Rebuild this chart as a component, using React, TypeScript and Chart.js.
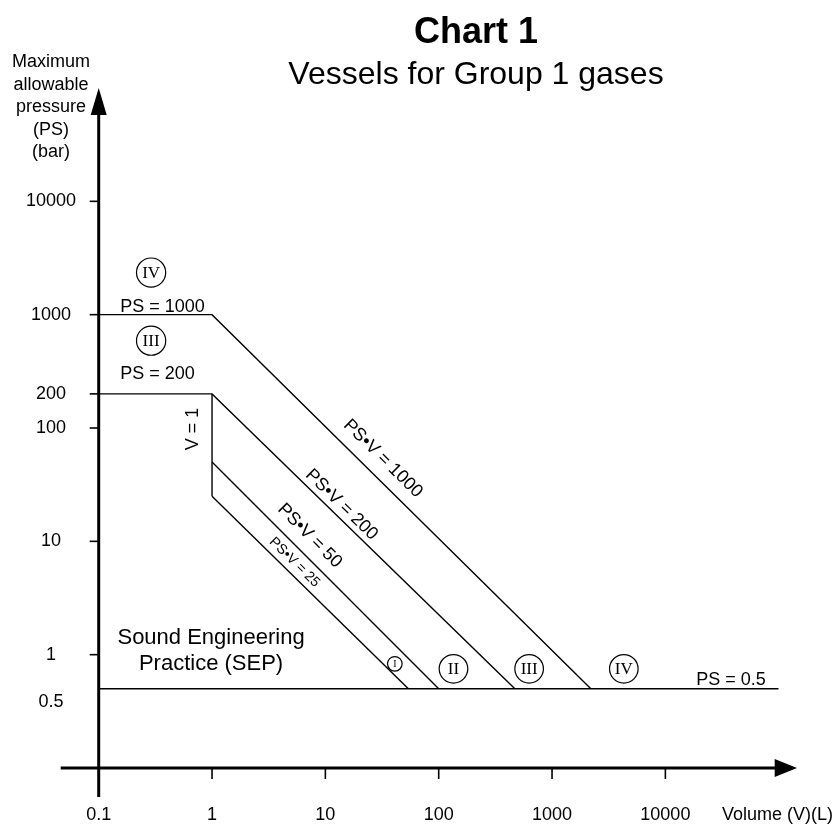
import React, { useEffect, useRef } from "react";
import { Chart, registerables } from "chart.js";

Chart.register(...registerables);

// ---- data ----
const volumeTicks = [0.1, 1, 10, 100, 1000, 10000];
const pressureTicks = [10000, 1000, 200, 100, 10, 1, 0.5];
const pressureTicksMarked = [10000, 1000, 200, 100, 10, 1];

// PS = 1000 then PS·V = 1000
const lineIVVolumes = [0.1, 1, 2200];
const lineIVPressures = [1000, 1000, 0.5];
// PS = 200 then PS·V = 200
const lineIIIVolumes = [0.1, 1, 470];
const lineIIIPressures = [200, 200, 0.5];
// V = 1
const lineV1Volumes = [1, 1];
const lineV1Pressures = [200, 25];
// PS·V = 50
const line50Volumes = [1, 100];
const line50Pressures = [50, 0.5];
// PS·V = 25
const line25Volumes = [1, 54];
const line25Pressures = [25, 0.5];
// PS = 0.5
const lineSEPVolumes = [0.1, 100000];
const lineSEPPressures = [0.5, 0.5];

const psvProducts = [1000, 200, 50, 25];
const psvStartPressures = [1000, 200, 50, 25];
const psvEndVolumes = [2200, 470, 100, 54];

const FONT = '"Liberation Sans", Arial, Helvetica, sans-serif';
const SERIF = '"Liberation Serif", "Times New Roman", serif';

const toPoints = (xs: number[], ys: number[]) => xs.map((x, i) => ({ x, y: ys[i] }));

// label styling (positions along lines, offsets, sizes)
const psvLabelAt = [25, 11.9, 5.7, 4.6];
const psvLabelOffset = [17.7, 11, 17, 10.6];
const psvLabelSize = [18, 18, 18, 14];

const overlay = {
  id: "overlay",
  beforeDraw(chart: any) {
    const { ctx, width, height } = chart;
    ctx.save();
    ctx.fillStyle = "#fff";
    ctx.fillRect(0, 0, width, height);
    ctx.restore();
  },
  afterDatasetsDraw(chart: any) {
    const ctx: CanvasRenderingContext2D = chart.ctx;
    const xs = chart.scales.x;
    const ys = chart.scales.y;
    const px = (v: number) => xs.getPixelForValue(v);
    const py = (v: number) => ys.getPixelForValue(v);
    const x0 = px(0.1);
    const y0 = py(0.1);

    ctx.save();
    ctx.strokeStyle = "#000";
    ctx.fillStyle = "#000";

    // axes
    ctx.lineWidth = 3;
    ctx.beginPath();
    ctx.moveTo(x0, y0 + 29);
    ctx.lineTo(x0, ys.top + 20);
    ctx.stroke();
    ctx.beginPath();
    ctx.moveTo(x0, ys.top);
    ctx.lineTo(x0 - 8, ys.top + 27);
    ctx.lineTo(x0 + 8, ys.top + 27);
    ctx.closePath();
    ctx.fill();

    ctx.beginPath();
    ctx.moveTo(x0 - 38, y0);
    ctx.lineTo(xs.right, y0);
    ctx.stroke();
    ctx.beginPath();
    ctx.moveTo(xs.right + 18.3, y0);
    ctx.lineTo(xs.right - 4, y0 - 9);
    ctx.lineTo(xs.right - 4, y0 + 9);
    ctx.closePath();
    ctx.fill();

    // tick marks
    ctx.lineWidth = 1.6;
    volumeTicks.forEach((v) => {
      if (v === 0.1) return;
      const x = px(v);
      ctx.beginPath();
      ctx.moveTo(x, y0);
      ctx.lineTo(x, y0 + 11);
      ctx.stroke();
    });
    pressureTicksMarked.forEach((v) => {
      const y = py(v);
      ctx.beginPath();
      ctx.moveTo(x0 - 9, y);
      ctx.lineTo(x0, y);
      ctx.stroke();
    });

    // tick labels
    ctx.font = `18px ${FONT}`;
    ctx.textAlign = "center";
    ctx.textBaseline = "middle";
    volumeTicks.forEach((v) => {
      ctx.fillText(String(v), px(v), y0 + 47);
    });
    pressureTicks.forEach((v) => {
      const y = py(v) + (v === 0.5 ? 13 : 0);
      ctx.fillText(String(v), x0 - 47.7, y);
    });
    ctx.textAlign = "left";
    ctx.fillText("Volume (V)(L)", 722, y0 + 47);

    // y axis title
    ctx.textAlign = "center";
    ctx.textBaseline = "alphabetic";
    ["Maximum", "allowable", "pressure", "(PS)", "(bar)"].forEach((t, i) => {
      ctx.fillText(t, 51, 67 + i * 22.6);
    });

    // title
    ctx.font = `bold 36px ${FONT}`;
    ctx.fillText("Chart 1", 476, 42.7);
    ctx.font = `32px ${FONT}`;
    ctx.fillText("Vessels for Group 1 gases", 476, 83.5);

    // horizontal labels
    ctx.font = `18px ${FONT}`;
    ctx.textAlign = "left";
    ctx.fillText("PS = 1000", px(0.155), py(1000) - 3);
    ctx.fillText("PS = 200", px(0.155), py(200) - 15);
    ctx.fillText("PS = 0.5", px(18700), py(0.5) - 4);

    // V = 1
    ctx.save();
    ctx.translate(px(1) - 19.5, py(98));
    ctx.rotate(-Math.PI / 2);
    ctx.textAlign = "center";
    ctx.textBaseline = "middle";
    ctx.fillText("V = 1", 0, 0);
    ctx.restore();

    // SEP
    ctx.font = `22px ${FONT}`;
    ctx.textAlign = "center";
    ctx.textBaseline = "alphabetic";
    ctx.fillText("Sound Engineering", px(0.98), py(1) - 11);
    ctx.fillText("Practice (SEP)", px(0.98), py(1) + 15);

    // diagonal labels
    psvProducts.forEach((prod, i) => {
      const xA = px(1);
      const yA = py(psvStartPressures[i]);
      const xB = px(psvEndVolumes[i]);
      const yB = py(0.5);
      const ang = Math.atan2(yB - yA, xB - xA);
      const t = Math.log10(psvLabelAt[i]) / Math.log10(psvEndVolumes[i]);
      const lx = xA + (xB - xA) * t;
      const ly = yA + (yB - yA) * t;
      const d = psvLabelOffset[i];
      const cx = lx + d * Math.sin(ang);
      const cy = ly - d * Math.cos(ang);
      ctx.save();
      ctx.translate(cx, cy);
      ctx.rotate(ang);
      ctx.font = `${psvLabelSize[i]}px ${FONT}`;
      ctx.textAlign = "center";
      ctx.textBaseline = "middle";
      ctx.fillText(`PS\u2022V = ${prod}`, 0, 0);
      ctx.restore();
    });

    // circled category numerals
    const circled = (label: string, vx: number, vy: number, r: number, size: number) => {
      const cx = px(vx);
      const cy = py(vy);
      ctx.lineWidth = 1.2;
      ctx.beginPath();
      ctx.arc(cx, cy, r, 0, Math.PI * 2);
      ctx.stroke();
      ctx.font = `${size}px ${SERIF}`;
      ctx.textAlign = "center";
      ctx.textBaseline = "middle";
      ctx.fillText(label, cx, cy + 0.5);
    };
    circled("IV", 0.29, 2350, 14.6, 17);
    circled("III", 0.29, 590, 14.6, 17);
    circled("I", 41, 0.83, 7.3, 10);
    circled("II", 135, 0.75, 14.3, 17);
    circled("III", 628, 0.75, 14.3, 17);
    circled("IV", 4300, 0.75, 14.3, 17);

    ctx.restore();
  },
};

export default function App() {
  const ref = useRef<HTMLCanvasElement | null>(null);

  useEffect(() => {
    if (!ref.current) return;
    const mk = (xs: number[], ys: number[]) => ({
      data: toPoints(xs, ys),
      showLine: true,
      borderColor: "#000",
      backgroundColor: "#000",
      borderWidth: 1.4,
      pointRadius: 0,
      fill: false,
      borderJoinStyle: "miter" as const,
    });
    const chart = new Chart(ref.current, {
      type: "scatter",
      data: {
        datasets: [
          mk(lineIVVolumes, lineIVPressures),
          mk(lineIIIVolumes, lineIIIPressures),
          mk(lineV1Volumes, lineV1Pressures),
          mk(line50Volumes, line50Pressures),
          mk(line25Volumes, line25Pressures),
          mk(lineSEPVolumes, lineSEPPressures),
        ],
      },
      options: {
        responsive: false,
        maintainAspectRatio: false,
        animation: false,
        devicePixelRatio: 1,
        events: [],
        layout: { padding: { left: 98.7, right: 61.3, top: 88, bottom: 56 } },
        plugins: {
          legend: { display: false },
          tooltip: { enabled: false },
          title: { display: false },
        },
        scales: {
          x: { type: "logarithmic", min: 0.1, max: 100000, display: false },
          y: { type: "logarithmic", min: 0.1, max: 100000, display: false },
        },
        elements: { line: { tension: 0 } },
      },
      plugins: [overlay],
    });
    return () => chart.destroy();
  }, []);

  return (
    <div style={{ position: "fixed", left: 0, top: 0, width: 840, height: 824, background: "#fff" }}>
      <canvas ref={ref} width={840} height={824} style={{ display: "block" }} />
    </div>
  );
}
